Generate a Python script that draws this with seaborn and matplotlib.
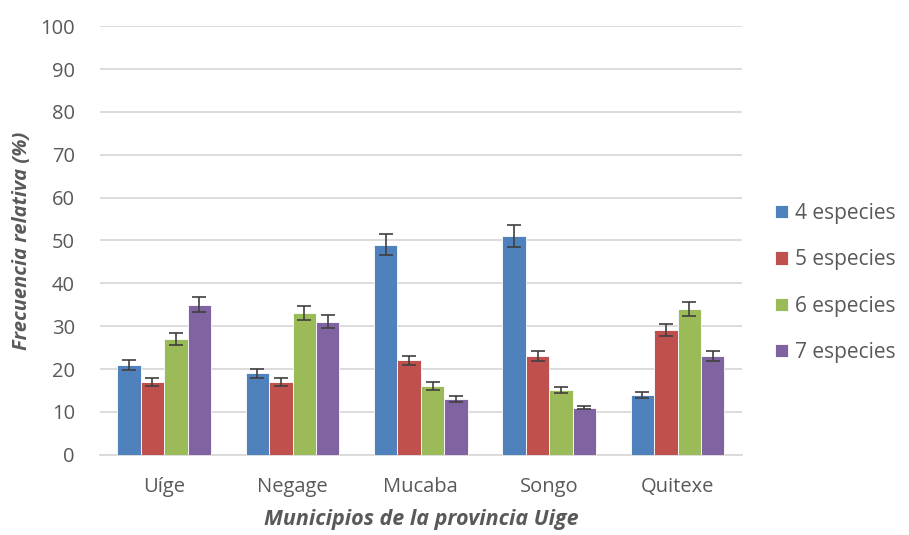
import numpy as np
import pandas as pd
import matplotlib
matplotlib.use('Agg')
import matplotlib.pyplot as plt
import seaborn as sns

#data
municipios=['Uíge','Negage','Mucaba','Songo','Quitexe']
especies=['4 especies','5 especies','6 especies','7 especies']
frec_4=[21,19,49,51,14]
frec_5=[17,17,22,23,29]
frec_6=[27,33,16,15,34]
frec_7=[35,31,13,11,23]
err_4=[1.2,1.0,2.5,2.6,0.7]
err_5=[0.9,0.9,1.1,1.2,1.4]
err_6=[1.3,1.6,0.9,0.7,1.7]
err_7=[1.7,1.5,0.6,0.4,1.2]

colores=['#4F81BD','#C0504D','#9BBB59','#8064A2']

#long format for seaborn
df=pd.DataFrame({'municipio':municipios*4,
                 'especie':np.repeat(especies,len(municipios)),
                 'frec':frec_4+frec_5+frec_6+frec_7,
                 'err':err_4+err_5+err_6+err_7})

sns.set_style('white')
plt.rcParams['font.family']=['Open Sans','DejaVu Sans']

fig=plt.figure(figsize=(9.09,5.35),dpi=100)
ax=fig.add_axes([0.11,0.15,0.706,0.801])

sns.barplot(data=df,x='municipio',y='frec',hue='especie',palette=colores,
            saturation=1,width=0.73,gap=0,errorbar=None,ax=ax,legend=True,
            edgecolor='white',linewidth=0.6,zorder=3)

#error bars at the centre of each bar (patches ordered by hue then x)
bars=[p for p in ax.patches if p.get_height()>0]
xs=[p.get_x()+p.get_width()/2 for p in bars]
hs=[p.get_height() for p in bars]
ax.errorbar(xs,hs,yerr=df.err.values,fmt='none',ecolor='#404040',
            elinewidth=1.2,capsize=5,capthick=1.2,zorder=4)

ax.set_ylim(0,100)
ax.set_yticks(range(0,101,10))
ax.set_xlim(-0.5,4.5)
ax.yaxis.grid(True,color='#D9D9D9',lw=1.3,zorder=0)
ax.set_axisbelow(True)
for s in ['top','right','left']:
    ax.spines[s].set_visible(False)
ax.spines['bottom'].set_color('#D9D9D9')
ax.spines['bottom'].set_linewidth(1.3)
ax.tick_params(axis='both',length=0,labelsize=14.5,labelcolor='#595959')
ax.tick_params(axis='y',pad=18)
ax.tick_params(axis='x',pad=16)

ax.set_ylabel('Frecuencia relativa (%)',fontsize=14.5,fontstyle='italic',
              fontweight='bold',color='#595959',labelpad=6)
ax.set_xlabel('Municipios de la provincia Uige',fontsize=15.5,fontstyle='italic',
              fontweight='bold',color='#595959',labelpad=9)

handles,labels=ax.get_legend_handles_labels()
ax.get_legend().remove()
fig.legend(handles,labels,loc='center left',bbox_to_anchor=(0.853,0.471),
           frameon=False,fontsize=15,labelcolor='#595959',handlelength=0.6,
           handleheight=0.6,handletextpad=0.35,labelspacing=1.22,
           borderaxespad=0,borderpad=0)

fig.savefig('out.png',dpi=100)
